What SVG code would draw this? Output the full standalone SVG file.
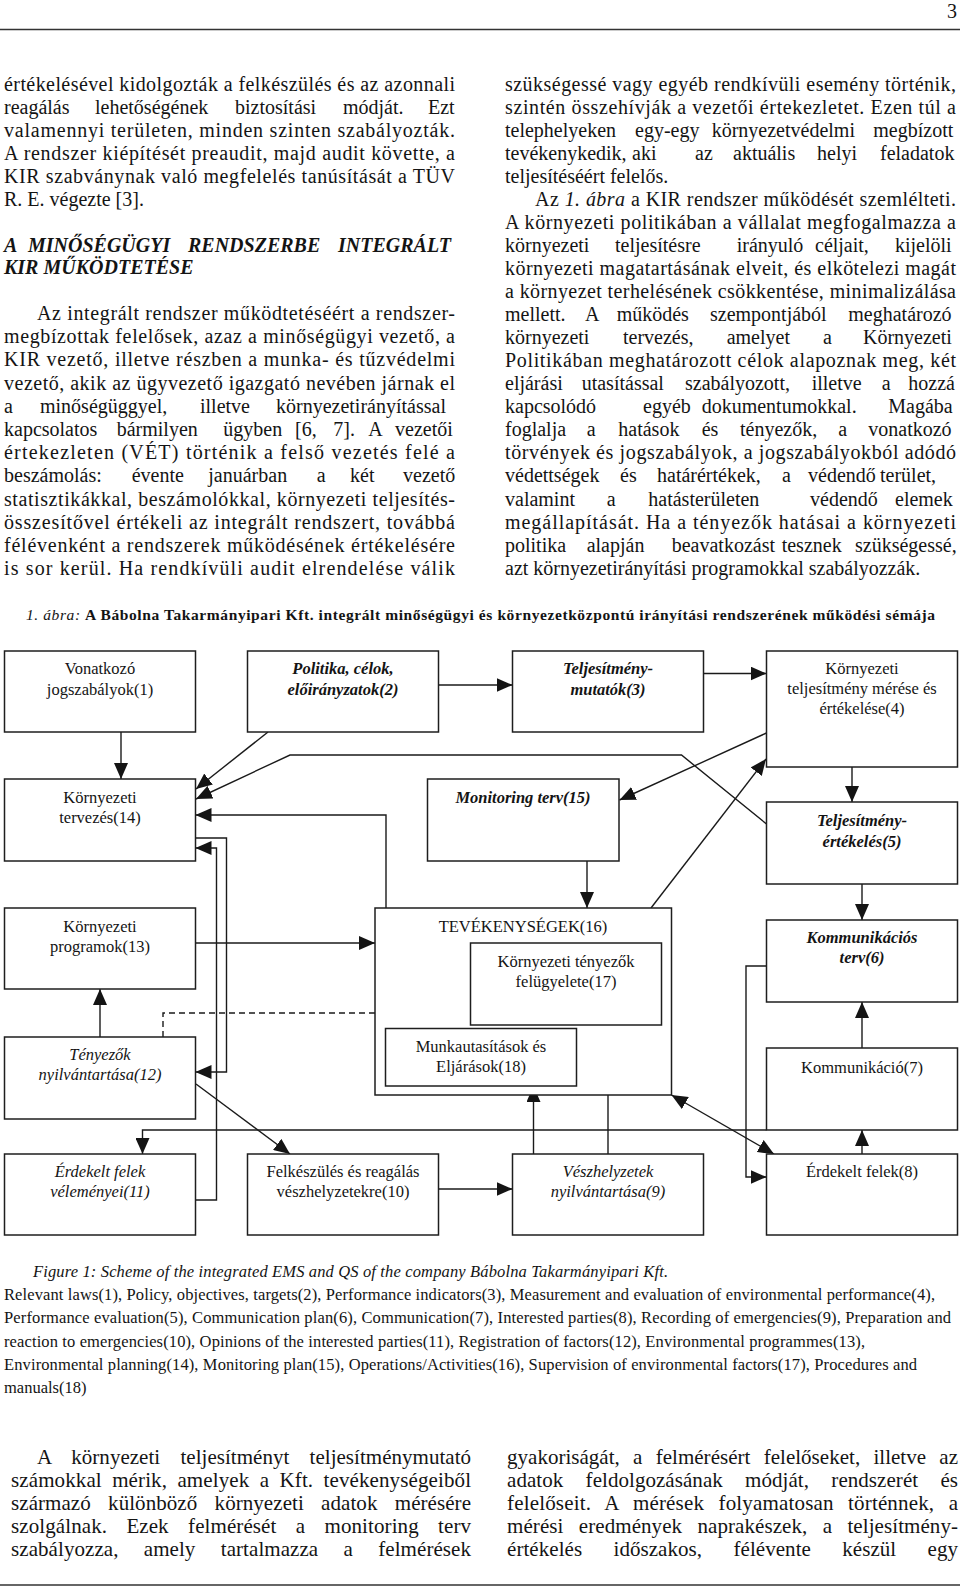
<svg xmlns="http://www.w3.org/2000/svg" width="960" height="1589" viewBox="0 0 960 1589">
<style>
.t{font-family:"Liberation Serif","Times New Roman",serif;font-size:20px;fill:#141414}
.s{font-size:16.5px}
.cap{font-size:15.5px}
.bt{font-size:21px}
.bi{font-weight:bold;font-style:italic}
.it{font-style:italic}
.bd{font-weight:bold}
.c{text-anchor:middle}
.box{fill:#fff;stroke:#1e1e1e;stroke-width:1.5}
.ln{fill:none;stroke:#1a1a1a;stroke-width:1.4}
.ar{marker-end:url(#ah)}
.dash{stroke-dasharray:6 4}
</style>
<defs>
<marker id="ah" markerUnits="userSpaceOnUse" markerWidth="16" markerHeight="14" refX="16" refY="7" orient="auto-start-reverse" viewBox="0 0 16 14"><path d="M0,0 L16,7 L0,14 z" fill="#141414"/></marker>
</defs>
<rect width="960" height="1589" fill="#fff"/>

<!-- header -->
<text class="t" x="957" y="18" text-anchor="end" font-size="18">3</text>
<line x1="0" y1="29.5" x2="960" y2="29.5" stroke="#333" stroke-width="1.5"/>

<!-- left column -->
<g id="left-column">
<text class="t" x="4" y="91" textLength="451">értékelésével kidolgozták a felkészülés és az azonnali</text>
<text class="t" y="113.5"><tspan x="4">reagálás</tspan> <tspan x="95">lehetőségének</tspan> <tspan x="235">biztosítási</tspan> <tspan x="343">módját.</tspan> <tspan x="428">Ezt</tspan></text>
<text class="t" x="4" y="136.5" textLength="451">valamennyi területen, minden szinten szabályozták.</text>
<text class="t" x="4" y="159.5" textLength="451">A rendszer kiépítését preaudit, majd audit követte, a</text>
<text class="t" x="4" y="182.5" textLength="451">KIR szabványnak való megfelelés tanúsítását a TÜV</text>
<text class="t" x="4" y="205.5">R. E. végezte [3].</text>
<text class="t bi" y="252"><tspan x="4">A</tspan> <tspan x="28">MINŐSÉGÜGYI</tspan> <tspan x="188">RENDSZERBE</tspan> <tspan x="338">INTEGRÁLT</tspan></text>
<text class="t bi" x="4" y="274">KIR MŰKÖDTETÉSE</text>
<text class="t" x="37" y="320" textLength="418">Az integrált rendszer működtetéséért a rendszer-</text>
<text class="t" x="4" y="343.2" textLength="451">megbízottak felelősek, azaz a minőségügyi vezető, a</text>
<text class="t" x="4" y="366.4" textLength="451">KIR vezető, illetve részben a munka- és tűzvédelmi</text>
<text class="t" x="4" y="389.6" textLength="451">vezető, akik az ügyvezető igazgató nevében járnak el</text>
<text class="t" y="412.8"><tspan x="4">a</tspan> <tspan x="40">minőségüggyel,</tspan> <tspan x="200">illetve</tspan> <tspan x="276">környezetirányítással</tspan></text>
<text class="t" y="436"><tspan x="4">kapcsolatos</tspan> <tspan x="116.7">bármilyen</tspan> <tspan x="223.3">ügyben</tspan> <tspan x="295">[6,</tspan> <tspan x="333.3">7].</tspan> <tspan x="368.3">A</tspan> <tspan x="395">vezetői</tspan></text>
<text class="t" x="4" y="459.2" textLength="451">értekezleten (VÉT) történik a felső vezetés felé a</text>
<text class="t" y="482.4"><tspan x="4">beszámolás:</tspan> <tspan x="131.7">évente</tspan> <tspan x="208.3">januárban</tspan> <tspan x="316.7">a</tspan> <tspan x="350">két</tspan> <tspan x="403">vezető</tspan></text>
<text class="t" x="4" y="505.6" textLength="451">statisztikákkal, beszámolókkal, környezeti teljesítés-</text>
<text class="t" x="4" y="528.8" textLength="451">összesítővel értékeli az integrált rendszert, továbbá</text>
<text class="t" x="4" y="552" textLength="451">félévenként a rendszerek működésének értékelésére</text>
<text class="t" x="4" y="575.2" textLength="451">is sor kerül. Ha rendkívüli audit elrendelése válik</text>
</g>

<!-- right column -->
<g id="right-column">
<text class="t" x="505" y="91" textLength="451">szükségessé vagy egyéb rendkívüli esemény történik,</text>
<text class="t" x="505" y="113.5" textLength="451">szintén összehívják a vezetői értekezletet. Ezen túl a</text>
<text class="t" y="136.5"><tspan x="505">telephelyeken</tspan> <tspan x="635">egy-egy</tspan> <tspan x="711.7">környezetvédelmi</tspan> <tspan x="873.3">megbízott</tspan></text>
<text class="t" y="159.5"><tspan x="505">tevékenykedik,</tspan> <tspan x="632">aki</tspan> <tspan x="695">az</tspan> <tspan x="733">aktuális</tspan> <tspan x="817">helyi</tspan> <tspan x="880">feladatok</tspan></text>
<text class="t" x="505" y="182.5">teljesítéséért felelős.</text>
<text class="t" x="535" y="205.5" textLength="421">Az <tspan class="it">1. ábra</tspan> a KIR rendszer működését szemlélteti.</text>
<text class="t" x="505" y="228.5" textLength="451">A környezeti politikában a vállalat megfogalmazza a</text>
<text class="t" y="251.5"><tspan x="505">környezeti</tspan> <tspan x="615">teljesítésre</tspan> <tspan x="736.7">irányuló</tspan> <tspan x="815">céljait,</tspan> <tspan x="895">kijelöli</tspan></text>
<text class="t" x="505" y="274.5" textLength="451">környezeti magatartásának elveit, és elkötelezi magát</text>
<text class="t" x="505" y="297.5" textLength="451">a környezet terhelésének csökkentése, minimalizálása</text>
<text class="t" y="320.5"><tspan x="505">mellett.</tspan> <tspan x="585">A</tspan> <tspan x="616.7">működés</tspan> <tspan x="710">szempontjából</tspan> <tspan x="848.3">meghatározó</tspan></text>
<text class="t" y="343.5"><tspan x="505">környezeti</tspan> <tspan x="623">tervezés,</tspan> <tspan x="726.7">amelyet</tspan> <tspan x="823">a</tspan> <tspan x="863">Környezeti</tspan></text>
<text class="t" x="505" y="366.5" textLength="451">Politikában meghatározott célok alapoznak meg, két</text>
<text class="t" y="389.5"><tspan x="505">eljárási</tspan> <tspan x="581.7">utasítással</tspan> <tspan x="685">szabályozott,</tspan> <tspan x="811.7">illetve</tspan> <tspan x="881.7">a</tspan> <tspan x="908.3">hozzá</tspan></text>
<text class="t" y="412.5"><tspan x="505">kapcsolódó</tspan> <tspan x="643">egyéb</tspan> <tspan x="701.7">dokumentumokkal.</tspan> <tspan x="888.3">Magába</tspan></text>
<text class="t" y="436"><tspan x="505">foglalja</tspan> <tspan x="586.7">a</tspan> <tspan x="618.3">hatások</tspan> <tspan x="701.7">és</tspan> <tspan x="740">tényezők,</tspan> <tspan x="838.3">a</tspan> <tspan x="868.3">vonatkozó</tspan></text>
<text class="t" x="505" y="459" textLength="451">törvények és jogszabályok, a jogszabályokból adódó</text>
<text class="t" y="482"><tspan x="505">védettségek</tspan> <tspan x="620">és</tspan> <tspan x="657">határértékek,</tspan> <tspan x="782">a</tspan> <tspan x="808">védendő</tspan> <tspan x="880">terület,</tspan></text>
<text class="t" y="505.5"><tspan x="505">valamint</tspan> <tspan x="606.7">a</tspan> <tspan x="648.3">hatásterületen</tspan> <tspan x="810">védendő</tspan> <tspan x="895">elemek</tspan></text>
<text class="t" x="505" y="528.5" textLength="451">megállapítását. Ha a tényezők hatásai a környezeti</text>
<text class="t" y="552"><tspan x="505">politika</tspan> <tspan x="586.7">alapján</tspan> <tspan x="671.7">beavatkozást</tspan> <tspan x="781.7">tesznek</tspan> <tspan x="855">szükségessé,</tspan></text>
<text class="t" x="505" y="575">azt környezetirányítási programokkal szabályozzák.</text>
</g>

<!-- figure caption -->
<text class="t cap" x="26" y="620" textLength="909"><tspan class="it">1. ábra:</tspan> <tspan class="bd">A Bábolna Takarmányipari Kft. integrált minőségügyi és környezetközpontú irányítási rendszerének működési sémája</tspan></text>

<!-- connectors -->
<g id="connectors">
<path class="ln ar" d="M121,732 V779"/>
<path class="ln ar" d="M268,732 L196,789"/>
<path class="ln ar" d="M766.5,824 L681.5,755 H290 L196,799"/>
<path class="ln ar" d="M766.5,733 L619.5,800"/>
<path class="ln ar" d="M651,908 L766,759"/>
<path class="ln ar" d="M438.5,685 H512.5"/>
<path class="ln ar" d="M703.5,673.5 H766.5"/>
<path class="ln ar" d="M587,861 V908"/>
<path class="ln ar" d="M852,767 V802"/>
<path class="ln ar" d="M862,884 V920"/>
<path class="ln ar" d="M862,1048 V1002"/>
<path class="ln ar" d="M862,1154 V1130"/>
<path class="ln ar" d="M766.5,966 H746 V1177 H766.5"/>
<path class="ln ar" d="M195.5,943 H375"/>
<path class="ln ar" d="M100,1037 V989"/>
<path class="ln ar dash" d="M163,1037 V1013 H470.5"/>
<path class="ln ar" d="M195.5,838 H226.5 V1072 H195.5"/>
<path class="ln ar" d="M195.5,1200 H216.5 V848 H195.5"/>
<path class="ln ar" d="M386,908 V815 H195.5"/>
<path class="ln ar" d="M196,1084 L290,1154"/>
<path class="ln ar" d="M766.5,1130 H142.5 V1154"/>
<path class="ln ar" d="M671.5,1095 L774,1154" marker-start="url(#ah)"/>
<path class="ln ar" d="M533.5,1154 V1086"/>
<path class="ln ar" d="M608,1154 V1025"/>
<path class="ln ar" d="M438.5,1189 H512.5"/>
</g>

<!-- nodes -->
<g id="n1"><rect class="box" x="4.5" y="651" width="191" height="81"/>
<text class="t s c" x="100" y="674">Vonatkozó</text><text class="t s c" x="100" y="695">jogszabályok(1)</text></g>
<g id="n2"><rect class="box" x="247.5" y="651" width="191" height="81"/>
<text class="t s c bi" x="343" y="674">Politika, célok,</text><text class="t s c bi" x="343" y="695">előirányzatok(2)</text></g>
<g id="n3"><rect class="box" x="512.5" y="651" width="191" height="81"/>
<text class="t s c bi" x="608" y="674">Teljesítmény-</text><text class="t s c bi" x="608" y="695">mutatók(3)</text></g>
<g id="n4"><rect class="box" x="766.5" y="651" width="191" height="116"/>
<text class="t s c" x="862" y="674">Környezeti</text><text class="t s c" x="862" y="694">teljesítmény mérése és</text><text class="t s c" x="862" y="714">értékelése(4)</text></g>
<g id="n14"><rect class="box" x="4.5" y="779" width="191" height="82"/>
<text class="t s c" x="100" y="803">Környezeti</text><text class="t s c" x="100" y="823">tervezés(14)</text></g>
<g id="n15"><rect class="box" x="427.5" y="779" width="191.5" height="82"/>
<text class="t s c bi" x="523" y="803">Monitoring terv(15)</text></g>
<g id="n5"><rect class="box" x="766.5" y="802" width="191" height="82"/>
<text class="t s c bi" x="862" y="826">Teljesítmény-</text><text class="t s c bi" x="862" y="847">értékelés(5)</text></g>
<g id="n13"><rect class="box" x="4.5" y="908" width="191" height="81"/>
<text class="t s c" x="100" y="932">Környezeti</text><text class="t s c" x="100" y="952">programok(13)</text></g>
<g id="n16"><rect class="box" x="375" y="908" width="296.5" height="187"/>
<text class="t s c" x="523" y="932">TEVÉKENYSÉGEK(16)</text></g>
<g id="n17"><rect class="box" x="470.5" y="943" width="191" height="82"/>
<text class="t s c" x="566" y="967">Környezeti tényezők</text><text class="t s c" x="566" y="987">felügyelete(17)</text></g>
<g id="n18"><rect class="box" x="385.5" y="1028.5" width="191" height="57.5"/>
<text class="t s c" x="481" y="1052">Munkautasítások és</text><text class="t s c" x="481" y="1072">Eljárások(18)</text></g>
<g id="n6"><rect class="box" x="766.5" y="920" width="191" height="82"/>
<text class="t s c bi" x="862" y="943">Kommunikációs</text><text class="t s c bi" x="862" y="963">terv(6)</text></g>
<g id="n12"><rect class="box" x="4.5" y="1037" width="191" height="82"/>
<text class="t s c it" x="100" y="1060">Tényezők</text><text class="t s c it" x="100" y="1080">nyilvántartása(12)</text></g>
<g id="n7"><rect class="box" x="766.5" y="1048" width="191" height="82"/>
<text class="t s c" x="862" y="1073">Kommunikáció(7)</text></g>
<g id="n11"><rect class="box" x="4.5" y="1154" width="191" height="81"/>
<text class="t s c it" x="100" y="1177">Érdekelt felek</text><text class="t s c it" x="100" y="1197">véleményei(11)</text></g>
<g id="n10"><rect class="box" x="247.5" y="1154" width="191" height="81"/>
<text class="t s c" x="343" y="1177">Felkészülés és reagálás</text><text class="t s c" x="343" y="1197">vészhelyzetekre(10)</text></g>
<g id="n9"><rect class="box" x="512.5" y="1154" width="191" height="81"/>
<text class="t s c it" x="608" y="1177">Vészhelyzetek</text><text class="t s c it" x="608" y="1197">nyilvántartása(9)</text></g>
<g id="n8"><rect class="box" x="766.5" y="1154" width="191" height="81"/>
<text class="t s c" x="862" y="1177">Érdekelt felek(8)</text></g>

<!-- legend -->
<g id="legend">
<text class="t s it" x="33" y="1276.5" textLength="635">Figure 1: Scheme of the integrated EMS and QS of the company Bábolna Takarmányipari Kft.</text>
<text class="t s" x="4" y="1300" textLength="931">Relevant laws(1), Policy, objectives, targets(2), Performance indicators(3), Measurement and evaluation of environmental performance(4),</text>
<text class="t s" x="4" y="1323" textLength="947">Performance evaluation(5), Communication plan(6), Communication(7), Interested parties(8), Recording of emergencies(9), Preparation and</text>
<text class="t s" x="4" y="1346.5" textLength="861">reaction to emergencies(10), Opinions of the interested parties(11), Registration of factors(12), Environmental programmes(13),</text>
<text class="t s" x="4" y="1369.5" textLength="913">Environmental planning(14), Monitoring plan(15), Operations/Activities(16), Supervision of environmental factors(17), Procedures and</text>
<text class="t s" x="4" y="1392.5">manuals(18)</text>
</g>

<!-- bottom text -->
<g id="bottom-text">
<text class="t bt" x="37" y="1464" word-spacing="15" textLength="434">A környezeti teljesítményt teljesítménymutató</text>
<text class="t bt" x="11" y="1487" word-spacing="5" textLength="460">számokkal mérik, amelyek a Kft. tevékenységeiből</text>
<text class="t bt" x="11" y="1510" word-spacing="12" textLength="460">származó különböző környezeti adatok mérésére</text>
<text class="t bt" x="11" y="1533" word-spacing="14" textLength="460">szolgálnak. Ezek felmérését a monitoring terv</text>
<text class="t bt" x="11" y="1556" word-spacing="20" textLength="460">szabályozza, amely tartalmazza a felmérések</text>
<text class="t bt" x="507" y="1464" word-spacing="8" textLength="451">gyakoriságát, a felmérésért felelőseket, illetve az</text>
<text class="t bt" x="507" y="1487" word-spacing="17" textLength="451">adatok feldolgozásának módját, rendszerét és</text>
<text class="t bt" x="507" y="1510" word-spacing="9" textLength="451">felelőseit. A mérések folyamatosan történnek, a</text>
<text class="t bt" x="507" y="1533" word-spacing="10" textLength="451">mérési eredmények naprakészek, a teljesítmény-</text>
<text class="t bt" x="507" y="1556" word-spacing="26" textLength="451">értékelés időszakos, félévente készül egy</text>
</g>
<line x1="0" y1="1585" x2="960" y2="1585" stroke="#333" stroke-width="1.5"/>
</svg>
